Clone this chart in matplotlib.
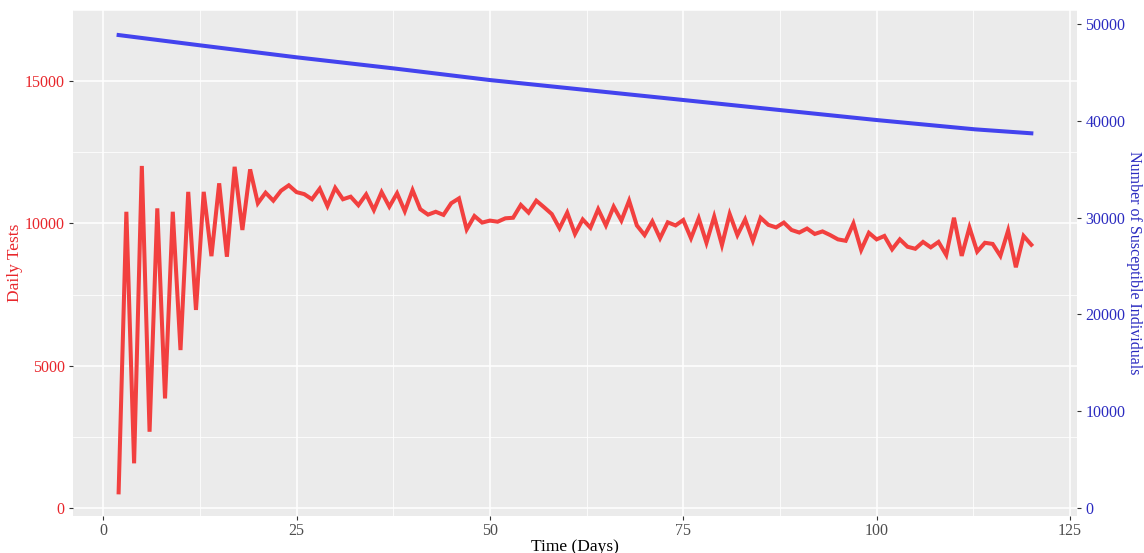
import matplotlib
matplotlib.use("Agg")
import matplotlib.pyplot as plt
from matplotlib.ticker import MultipleLocator

# Daily tests, days 2..120
days = list(range(2, 121))
daily_tests = [
    550, 10410, 1570, 12020, 2680, 10530, 3850, 10410, 5550, 11110,
    6960, 11110, 8850, 11410, 8830, 11990, 9770, 11900, 10710, 11080,
    10800, 11150, 11340, 11100, 11030, 10850, 11220, 10610, 11250, 10850,
    10940, 10640, 11020, 10470, 11100, 10590, 11060, 10430, 11170, 10500,
    10310, 10410, 10300, 10710, 10880, 9790, 10260, 10030, 10100, 10060,
    10180, 10200, 10650, 10380, 10800, 10570, 10330, 9830, 10380, 9630,
    10140, 9850, 10500, 9930, 10590, 10100, 10800, 9930, 9590, 10070,
    9480, 10040, 9930, 10120, 9480, 10180, 9320, 10240, 9240, 10330,
    9590, 10140, 9390, 10200, 9950, 9860, 10030, 9770, 9680, 9820,
    9630, 9720, 9590, 9440, 9390, 10000, 9070, 9670, 9440, 9560,
    9090, 9440, 9180, 9110, 9350, 9160, 9350, 8890, 10200, 8860,
    9860, 9010, 9320, 9280, 8860, 9750, 8460, 9560, 9250,
]

# Susceptible individuals (secondary axis), read at a few days
sus_days = [2, 12.5, 25, 37.5, 50, 62.5, 75, 87.5, 100, 112.7, 120]
susceptible = [48860, 47800, 46560, 45420, 44210, 43180, 42150, 41110, 40080, 39120, 38710]

red = "#F2403F"
blue = "#4343EE"
red_text = "#E8262B"
blue_text = "#2B2BC0"

plt.rcParams["font.family"] = ["Liberation Serif", "DejaVu Serif"]

fig = plt.figure(figsize=(11.44, 5.53), dpi=100)
ax = fig.add_axes([0.0638, 0.0669, 0.8776, 0.915])
ax2 = ax.twinx()

ax.set_facecolor("#EBEBEB")
for s in ax.spines.values():
    s.set_visible(False)
for s in ax2.spines.values():
    s.set_visible(False)

ax.set_xlim(-3.9, 125.9)
ax.set_ylim(-281, 17500)
k = 50000 / 17008
ax2.set_ylim(-281 * k, 17500 * k)

ax.xaxis.set_major_locator(MultipleLocator(25))
ax.xaxis.set_minor_locator(MultipleLocator(12.5))
ax.yaxis.set_major_locator(MultipleLocator(5000))
ax.yaxis.set_minor_locator(MultipleLocator(2500))
ax2.yaxis.set_major_locator(MultipleLocator(10000))

ax.grid(True, which="major", color="white", linewidth=1.1)
ax.grid(True, which="minor", color="white", linewidth=0.55)
ax.set_axisbelow(True)

ax.plot(days, daily_tests, color=red, linewidth=2.9, solid_joinstyle="miter", zorder=3)
ax2.plot(sus_days, susceptible, color=blue, linewidth=2.9, zorder=3)

ax.tick_params(axis="x", which="major", length=3, width=0.8, color="#333333",
               labelsize=11.5, labelcolor="#4D4D4D", pad=2)
ax.tick_params(axis="y", which="major", length=3, width=0.8, color="#333333",
               labelsize=11.5, labelcolor=red_text, pad=3)
ax.tick_params(which="minor", length=0)
ax2.tick_params(axis="y", length=3, width=0.8, color="#333333",
                labelsize=11.5, labelcolor=blue_text, pad=3)

ax.set_xlabel("Time (Days)", fontsize=12.5, color="black", labelpad=0)
ax.set_ylabel("Daily Tests", fontsize=12.5, color=red_text, labelpad=1)
ax2.set_ylabel("Number of Susceptible Individuals", fontsize=11.5, color=blue_text,
               rotation=270, labelpad=12)

fig.savefig("out.png", dpi=100)
